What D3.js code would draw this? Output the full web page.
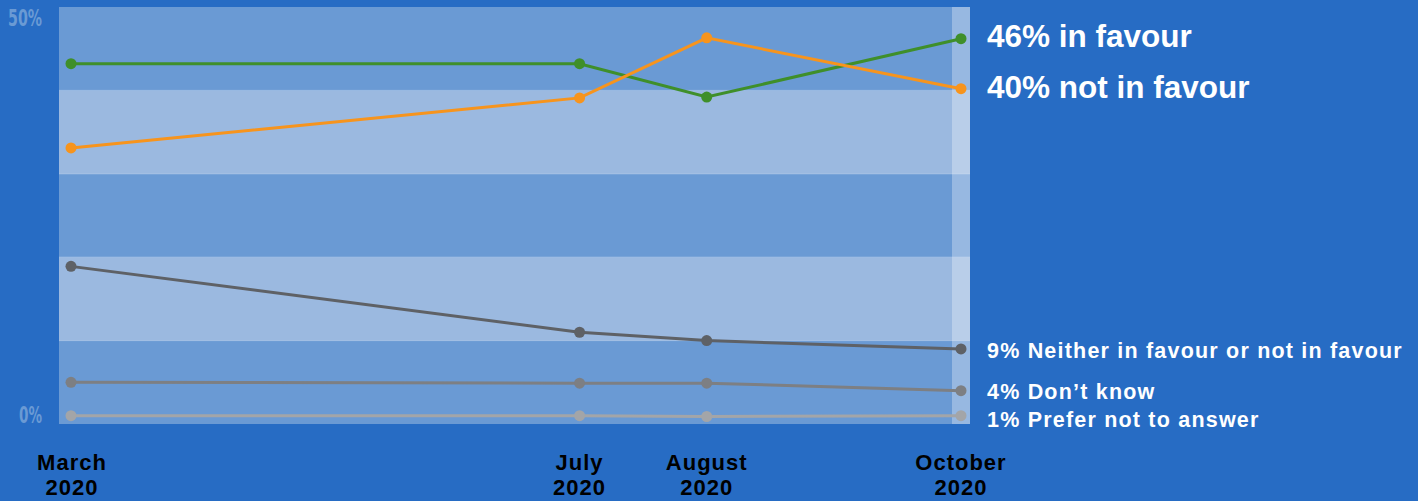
<!DOCTYPE html>
<html><head><meta charset="utf-8">
<script src="https://cdn.jsdelivr.net/npm/d3@7"></script>
<style>
html,body{margin:0;padding:0;background:#276cc4;}
svg{display:block;}
</style></head>
<body>
<svg id="c" width="1418" height="501"></svg>
<script>
const months = ["March\n2020","July\n2020","August\n2020","October\n2020"];
const monthIndex = [0,4,5,7];
const inFavour = [43.2,43.2,39.2,46.2];
const notInFavour = [33.1,39.1,46.3,40.2];
const neither = [18.9,11.0,10.0,9.0];
const dontKnow = [5.0,4.9,4.9,4.0];
const preferNot = [1.0,1.0,0.9,1.0];
const seriesNames = ["46% in favour","40% not in favour","9% Neither in favour or not in favour","4% Don\u2019t know","1% Prefer not to answer"];
const seriesColors = ["#3f8f2a","#f7941d","#5e6166","#7d7f83","#a3a5a8"];
const yTicks = [0,50];

(function(){
const series = [inFavour,notInFavour,neither,dontKnow,preferNot];
const svg = d3.select("#c");
const pl=59,pr=970,pt=7,pb=424;
const x = d3.scaleLinear().domain([0,7]).range([71,961]);
const y = d3.scaleLinear().domain([0,50]).range([pb,pt]);

// bands
const bands = d3.range(0,50,10);
svg.selectAll("rect.band").data(bands).enter().append("rect")
  .attr("x",pl).attr("width",pr-pl)
  .attr("y",d=>y(d+10)).attr("height",d=>y(d)-y(d+10))
  .attr("fill",(d,i)=> (i%2===0)?"#6a9ad4":"#9bb9e0");
svg.selectAll("line.bl").data(bands.slice(1)).enter().append("line")
  .attr("x1",pl).attr("x2",pr).attr("y1",d=>y(d)).attr("y2",d=>y(d))
  .attr("stroke","rgba(255,255,255,0.35)").attr("stroke-width",1);
// right lighter strip
svg.append("rect").attr("x",952).attr("width",pr-952).attr("y",pt).attr("height",pb-pt)
  .attr("fill","rgba(255,255,255,0.3)");

// y labels
svg.selectAll("text.yt").data(yTicks).enter().append("text")
  .attr("x",42).attr("y",d=>d===50?26:423)
  .attr("text-anchor","end")
  .attr("font-family","'DejaVu Sans Condensed','Liberation Sans',sans-serif")
  .attr("font-weight","bold").attr("font-size",23)
  .attr("textLength",d=>d===50?34:23).attr("lengthAdjust","spacingAndGlyphs")
  .attr("fill","#6a9ad4")
  .text(d=>d+"%");

// lines
const line = d3.line().x((d,i)=>x(monthIndex[i])).y(d=>y(d));
const order=[4,3,2,0,1];
order.forEach(k=>{
  const s=series[k];
  svg.append("path").datum(s).attr("d",line).attr("fill","none")
    .attr("stroke",seriesColors[k]).attr("stroke-width",3);
  svg.selectAll(null).data(s).enter().append("circle")
    .attr("cx",(d,i)=>x(monthIndex[i])).attr("cy",d=>y(d)).attr("r",5.5)
    .attr("fill",seriesColors[k]);
});

// right labels
const labelY=[36,87,351,392,420];
const labelSize=[31.5,31.5,21.5,21.5,21.5];
const labelSpacing=[0,0,1.2,1.2,1.2];
seriesNames.forEach((n,i)=>{
  svg.append("text").attr("x",987).attr("y",labelY[i])
    .attr("dominant-baseline","central")
    .attr("font-family","'Liberation Sans',Arial,sans-serif").attr("font-weight","bold")
    .attr("letter-spacing",labelSpacing[i])
    .attr("font-size",labelSize[i]).attr("fill","#ffffff").text(n);
});

// x labels
months.forEach((m,i)=>{
  const parts=m.split("\n");
  const t=svg.append("text").attr("text-anchor","middle")
    .attr("font-family","'Liberation Sans',Arial,sans-serif").attr("font-weight","bold")
    .attr("font-size",22).attr("letter-spacing",1).attr("fill","#000");
  parts.forEach((p,j)=>{
    t.append("tspan").attr("x",x(monthIndex[i])+(i===0?1:0)).attr("y",470+j*25).text(p);
  });
});
})();
</script>
</body></html>
